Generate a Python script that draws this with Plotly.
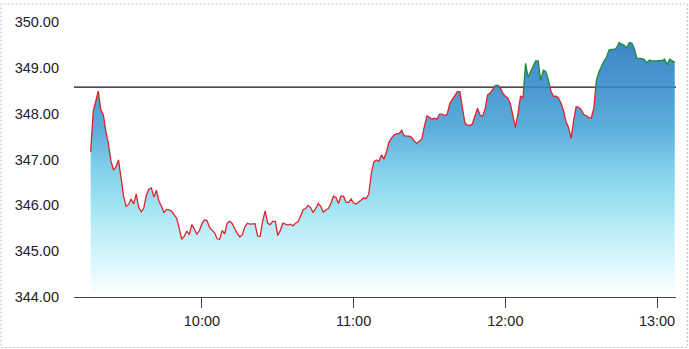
import plotly.graph_objects as go
import pandas as pd

# ---------------- data ----------------
start_time = "2024-01-02 09:16"
prev_close = 348.58
prices = [
    347.17, 348.05, 348.27, 348.49, 348.09, 347.97, 347.62, 347.35, 346.97, 346.77,
    346.84, 346.99, 346.60, 346.20, 345.98, 346.02, 346.14, 346.03, 346.25, 345.95,
    345.86, 345.94, 346.22, 346.35, 346.38, 346.18, 346.33, 346.09, 345.98, 345.84,
    345.91, 345.90, 345.87, 345.80, 345.72, 345.50, 345.26, 345.32, 345.44, 345.36,
    345.58, 345.48, 345.37, 345.45, 345.60, 345.68, 345.67, 345.52, 345.46, 345.40,
    345.27, 345.26, 345.45, 345.38, 345.61, 345.65, 345.60, 345.47, 345.38, 345.31,
    345.36, 345.53, 345.61, 345.59, 345.59, 345.60, 345.33, 345.32, 345.65, 345.88,
    345.61, 345.58, 345.65, 345.65, 345.34, 345.45, 345.61, 345.59, 345.57, 345.59,
    345.55, 345.61, 345.64, 345.76, 345.90, 345.93, 346.00, 345.95, 345.84, 345.93,
    346.04, 345.98, 345.85, 345.90, 345.93, 346.04, 346.20, 346.17, 346.04, 346.20,
    346.20, 346.07, 346.06, 346.14, 346.05, 346.03, 346.08, 346.13, 346.16, 346.15,
    346.25, 346.70, 346.95, 346.99, 346.96, 347.10, 347.01, 347.17, 347.38, 347.47,
    347.54, 347.56, 347.57, 347.64, 347.52, 347.51, 347.51, 347.48, 347.40, 347.35,
    347.39, 347.45, 347.73, 347.95, 347.92, 347.88, 347.90, 347.88, 347.99, 347.99,
    347.96, 347.98, 348.22, 348.31, 348.39, 348.48, 348.48, 348.12, 347.80, 347.75,
    347.74, 347.78, 347.94, 348.12, 347.97, 347.94, 348.10, 348.41, 348.45, 348.53,
    348.61, 348.62, 348.57, 348.45, 348.38, 348.34, 348.22, 347.95, 347.70, 348.00,
    348.38, 348.35, 349.10, 348.80, 348.92, 349.06, 349.15, 349.15, 348.72, 348.95,
    348.92, 348.74, 348.50, 348.38, 348.38, 348.35, 348.23, 348.07, 347.82, 347.70,
    347.46, 347.85, 348.15, 348.14, 348.09, 347.98, 347.96, 347.91, 347.91, 348.12,
    348.72, 348.91, 349.04, 349.15, 349.23, 349.39, 349.40, 349.40, 349.44, 349.55,
    349.52, 349.49, 349.44, 349.55, 349.54, 349.42, 349.21, 349.21, 349.20, 349.18,
    349.11, 349.17, 349.15, 349.15, 349.15, 349.15, 349.16, 349.19, 349.07, 349.19,
    349.16, 349.12,
]
y_ticks = [344, 345, 346, 347, 348, 349, 350]
x_ticks = ["2024-01-02 10:00", "2024-01-02 11:00", "2024-01-02 12:00", "2024-01-02 13:00"]
x_range = ["2024-01-02 09:09:24", "2024-01-02 13:07:30"]

# ---------------- styling ----------------
W, H = 689, 349
ML, MR, MT, MB = 74, 13, 22, 52
FONT = "Arial, Liberation Sans, sans-serif"
RED = "#e0232a"
GREEN = "#1f8a36"
ALPHA = 0.88


def rgba(r, g, b):
    c = [max(0, min(255, round((v - (1 - ALPHA) * 255) / ALPHA))) for v in (r, g, b)]
    return f"rgba({c[0]},{c[1]},{c[2]},{ALPHA})"


grad = [
    [0.0, rgba(255, 255, 255)],
    [0.107, rgba(225, 248, 253)],
    [0.25, rgba(190, 238, 248)],
    [0.393, rgba(150, 222, 240)],
    [0.518, rgba(125, 205, 233)],
    [0.643, rgba(95, 175, 220)],
    [0.768, rgba(80, 158, 212)],
    [0.893, rgba(70, 145, 205)],
    [1.0, rgba(62, 130, 198)],
]

times = pd.date_range(start_time, periods=len(prices), freq="min")
t0 = times[0]
mins = [(t - t0).total_seconds() / 60 for t in times]


def split(ref):
    ax, ay, bx, by = [], [], [], []
    prev = None
    for m, v in zip(mins, prices):
        side = v >= ref
        if prev is not None and side != prev[2]:
            pm, pv, pside = prev
            mc = pm + (ref - pv) * (m - pm) / (v - pv)
            if pside:
                ax += [mc, None]; ay += [ref, None]
                bx.append(mc); by.append(ref)
            else:
                bx += [mc, None]; by += [ref, None]
                ax.append(mc); ay.append(ref)
        if side:
            ax.append(m); ay.append(v)
        else:
            bx.append(m); by.append(v)
        prev = (m, v, side)
    conv = lambda lst: [None if q is None else t0 + pd.Timedelta(minutes=q) for q in lst]
    return conv(ax), ay, conv(bx), by


ax, ay, bx, by = split(prev_close)

fig = go.Figure()
fig.add_trace(go.Scatter(
    x=times, y=prices, mode="lines", line=dict(width=0),
    fill="tozeroy",
    fillgradient=dict(type="vertical", colorscale=grad, start=344, stop=349.6),
    hoverinfo="skip", showlegend=False,
))
fig.add_trace(go.Scatter(x=bx, y=by, mode="lines", line=dict(color=RED, width=1.3),
                         connectgaps=False, showlegend=False))
fig.add_trace(go.Scatter(x=ax, y=ay, mode="lines", line=dict(color=GREEN, width=1.3),
                         connectgaps=False, showlegend=False))

pw = W - ML - MR
ph = H - MT - MB
px2paper = lambda px: (px - ML) / pw
py2paper = lambda py: (H - MB - py) / ph

fig.add_shape(type="line", xref="paper", yref="y", x0=0, x1=1, y0=prev_close, y1=prev_close,
              line=dict(color="#111111", width=1.3), layer="below")
fig.add_shape(type="rect", xref="paper", yref="paper",
              x0=px2paper(1), x1=px2paper(687.5), y0=py2paper(347.5), y1=py2paper(4),
              line=dict(color="#c4c4c4", width=1.2, dash="2px,2px"), layer="above")

fig.update_layout(
    width=W, height=H,
    margin=dict(l=ML, r=MR, t=MT, b=MB, pad=0),
    paper_bgcolor="white", plot_bgcolor="white",
    font=dict(family=FONT, size=14.5, color="#222222"),
    showlegend=False,
    xaxis=dict(
        type="date", range=x_range, tickvals=x_ticks, tickformat="%H:%M",
        showgrid=False, zeroline=False, showline=True, linecolor="#444444", linewidth=1.2,
        ticks="outside", ticklen=10, tickwidth=1.2, tickcolor="#444444",
        tickfont=dict(size=14.5, family=FONT, color="#222222"),
    ),
    yaxis=dict(
        range=[344, 350], tickvals=y_ticks, ticktext=[f"{v:.2f}" for v in y_ticks],
        showgrid=False, zeroline=False, showline=False, ticks="",
        ticklabelstandoff=14,
        tickfont=dict(size=14.5, family=FONT, color="#222222"),
    ),
)

fig.write_html("out.html")
